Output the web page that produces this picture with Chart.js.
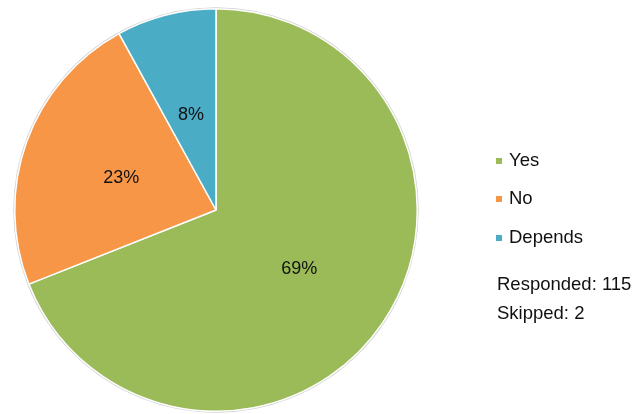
<!DOCTYPE html>
<html>
<head>
<meta charset="utf-8">
<script src="https://cdn.jsdelivr.net/npm/chart.js@4.4.0/dist/chart.umd.min.js"></script>
<style>
    html, body { margin: 0; padding: 0; background: #fff; }
    #wrap { width: 636px; height: 414px; position: relative; }
</style>
</head>
<body>
<div id="wrap"><canvas id="pieChart" width="636" height="414"></canvas></div>
<script>
const answerLabels = ['Yes', 'No', 'Depends'];
const answerPercents = [69, 23, 8];
const answerColors = ['#9bbb59', '#f79646', '#4bacc6'];
const responded = 115;
const skipped = 2;

const fontFamily = '"Liberation Sans", Arial, sans-serif';

// soft grey rim round the pie, like the original's shadow
const rimPlugin = {
    id: 'rim',
    beforeDatasetsDraw(chart) {
        const arc = chart.getDatasetMeta(0).data[0];
        if (!arc) return;
        const ctx = chart.ctx;
        ctx.save();
        ctx.beginPath();
        ctx.arc(arc.x, arc.y, arc.outerRadius + 0.5, 0, Math.PI * 2);
        ctx.strokeStyle = 'rgba(0,0,0,0.18)';
        ctx.lineWidth = 2;
        ctx.stroke();
        ctx.restore();
    }
};

const labelPlugin = {
    id: 'sliceLabels',
    afterDraw(chart) {
        const ctx = chart.ctx;
        ctx.save();
        ctx.font = '18px ' + fontFamily;
        ctx.fillStyle = '#111';
        ctx.textAlign = 'center';
        ctx.textBaseline = 'middle';
        chart.getDatasetMeta(0).data.forEach((arc, i) => {
            const pos = arc.tooltipPosition();
            ctx.fillText(answerPercents[i] + '%', pos.x, pos.y + 2);
        });

        // legend on the right
        ctx.font = '18.5px ' + fontFamily;
        ctx.textAlign = 'left';
        const legendX = 496;
        const legendY = [161, 199, 238];
        answerLabels.forEach((label, i) => {
            ctx.fillStyle = answerColors[i];
            ctx.fillRect(legendX, legendY[i] - 3, 6, 6);
            ctx.fillStyle = '#111';
            ctx.fillText(label, legendX + 13, legendY[i]);
        });
        ctx.fillText('Responded: ' + responded, legendX + 1, 285);
        ctx.fillText('Skipped: ' + skipped, legendX + 1, 314);
        ctx.restore();
    }
};

const ctx = document.getElementById('pieChart').getContext('2d');
const pieChart = new Chart(ctx, {
    type: 'pie',
    data: {
        labels: answerLabels,
        datasets: [{
            data: answerPercents,
            backgroundColor: answerColors,
            borderColor: '#ffffff',
            borderWidth: 1.5
        }]
    },
    options: {
        responsive: false,
        animation: false,
        layout: {
            padding: { top: 8, bottom: 2, left: 14, right: 218 }
        },
        plugins: {
            legend: { display: false },
            tooltip: { enabled: false }
        }
    },
    plugins: [rimPlugin, labelPlugin]
});
</script>
</body>
</html>
